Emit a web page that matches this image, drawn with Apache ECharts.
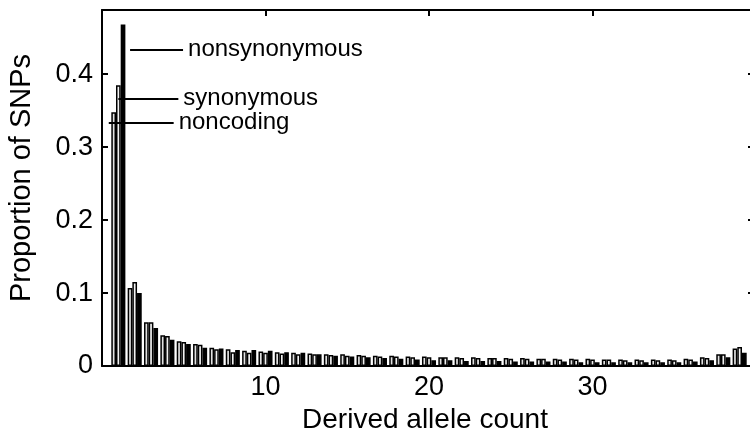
<!DOCTYPE html>
<html>
<head>
<meta charset="utf-8">
<script src="https://cdn.jsdelivr.net/npm/echarts@6/dist/echarts.min.js"></script>
<style>html,body{margin:0;padding:0;background:#fff}#c{width:750px;height:440px}</style>
</head>
<body>
<div id="c"></div>
<script>
var categories = [1,2,3,4,5,6,7,8,9,10,11,12,13,14,15,16,17,18,19,20,21,22,23,24,25,26,27,28,29,30,31,32,33,34,35,36,37,38,39];
var noncoding = [0.348,0.107,0.060,0.042,0.034,0.030,0.025,0.023,0.021,0.020,0.019,0.018,0.017,0.016,0.016,0.015,0.014,0.014,0.013,0.013,0.012,0.012,0.012,0.011,0.011,0.011,0.010,0.010,0.010,0.010,0.009,0.009,0.009,0.009,0.009,0.010,0.012,0.016,0.024];
var synonymous = [0.385,0.115,0.060,0.041,0.033,0.029,0.023,0.019,0.018,0.018,0.017,0.016,0.016,0.015,0.014,0.014,0.013,0.013,0.012,0.012,0.012,0.011,0.011,0.011,0.010,0.010,0.010,0.009,0.009,0.009,0.009,0.008,0.008,0.008,0.008,0.009,0.011,0.016,0.026];
var nonsynonymous = [0.468,0.100,0.052,0.036,0.030,0.025,0.024,0.022,0.022,0.021,0.019,0.018,0.016,0.014,0.013,0.012,0.011,0.010,0.009,0.008,0.008,0.007,0.007,0.007,0.006,0.006,0.006,0.006,0.005,0.005,0.005,0.005,0.005,0.005,0.005,0.006,0.008,0.012,0.018];
var xTicks = [10, 20, 30];
var yTicks = [0, 0.1, 0.2, 0.3, 0.4];

var FONT = 'Liberation Sans, Arial, Helvetica, sans-serif';
function pairs(arr){ return categories.map(function(c,i){ return [c, arr[i]]; }); }
function isTick(list, v){ return list.some(function(t){ return Math.abs(t - v) < 1e-6; }); }

var chart = echarts.init(document.getElementById('c'), null, {renderer:'canvas'});
function annot(text, x0, x1, y){
  return {
    symbol: ['none','none'], silent: true, animation: false,
    lineStyle: {color:'#000', width:2, type:'solid'},
    label: {show:true, position:'end', formatter:text, color:'#000', fontSize:24, fontFamily:FONT, distance:5},
    data: [[{coord:[x0, y]}, {coord:[x1, y]}]]
  };
}
var axisLineStyle = {color:'#000', width:2};
function tick(len){ return {show:true, inside:true, length:len, lineStyle:{color:'#000', width:2}}; }
chart.setOption({
  animation: false,
  grid: {left:102, top:10, width:654, height:356, containLabel:false, outerBoundsMode:'none'},
  xAxis: [{
    type:'value', min:0, max:40, interval:10, position:'bottom',
    axisLine:{show:true, onZero:false, lineStyle:axisLineStyle},
    axisTick:tick(6),
    splitLine:{show:false},
    axisLabel:{color:'#000', fontSize:27, fontFamily:FONT, margin:8,
      formatter:function(v){ return isTick(xTicks, v) ? String(v) : ''; }},
    name:'Derived allele count', nameLocation:'middle', nameGap:38,
    nameTextStyle:{color:'#000', fontSize:28, fontFamily:FONT, padding:[0,8,0,0]}
  },{
    type:'value', min:0, max:40, interval:10, position:'top',
    axisLine:{show:true, onZero:false, lineStyle:axisLineStyle},
    axisTick:tick(6),
    axisLabel:{show:false}, splitLine:{show:false}
  }],
  yAxis: [{
    type:'value', min:0, max:0.488, interval:0.1, position:'left',
    axisLine:{show:true, onZero:false, lineStyle:axisLineStyle},
    axisTick:tick(6),
    splitLine:{show:false},
    axisLabel:{color:'#000', fontSize:27, fontFamily:FONT, margin:9,
      formatter:function(v){ return isTick(yTicks, v) ? (v === 0 ? '0' : String(Math.round(v*10)/10)) : ''; }},
    name:'Proportion of SNPs', nameLocation:'middle', nameGap:66,
    nameTextStyle:{color:'#000', fontSize:29, fontFamily:FONT, padding:[0,0,0,20]}
  },{
    type:'value', min:0, max:0.488, interval:0.1, position:'right',
    axisLine:{show:true, onZero:false, lineStyle:axisLineStyle},
    axisTick:tick(8),
    axisLabel:{show:false}, splitLine:{show:false}
  }],
  series: [{
    name:'noncoding', type:'bar', xAxisIndex:0, yAxisIndex:0,
    data: pairs(noncoding), barGap:'0%', barCategoryGap:'14%',
    itemStyle:{color:'#e2e2e2', borderColor:'#000', borderWidth:1.5},
    markLine: annot('noncoding', 0.7, 4.67, 0.334)
  },{
    name:'synonymous', type:'bar', xAxisIndex:0, yAxisIndex:0,
    data: pairs(synonymous), barGap:'0%', barCategoryGap:'14%',
    itemStyle:{color:'#f2f2f2', borderColor:'#000', borderWidth:1.5},
    markLine: annot('synonymous', 1.0, 4.67, 0.367)
  },{
    name:'nonsynonymous', type:'bar', xAxisIndex:0, yAxisIndex:0,
    data: pairs(nonsynonymous), barGap:'0%', barCategoryGap:'14%',
    itemStyle:{color:'#000', borderColor:'#000', borderWidth:1.5},
    markLine: annot('nonsynonymous', 1.43, 4.67, 0.434)
  }]
});
</script>
</body>
</html>
